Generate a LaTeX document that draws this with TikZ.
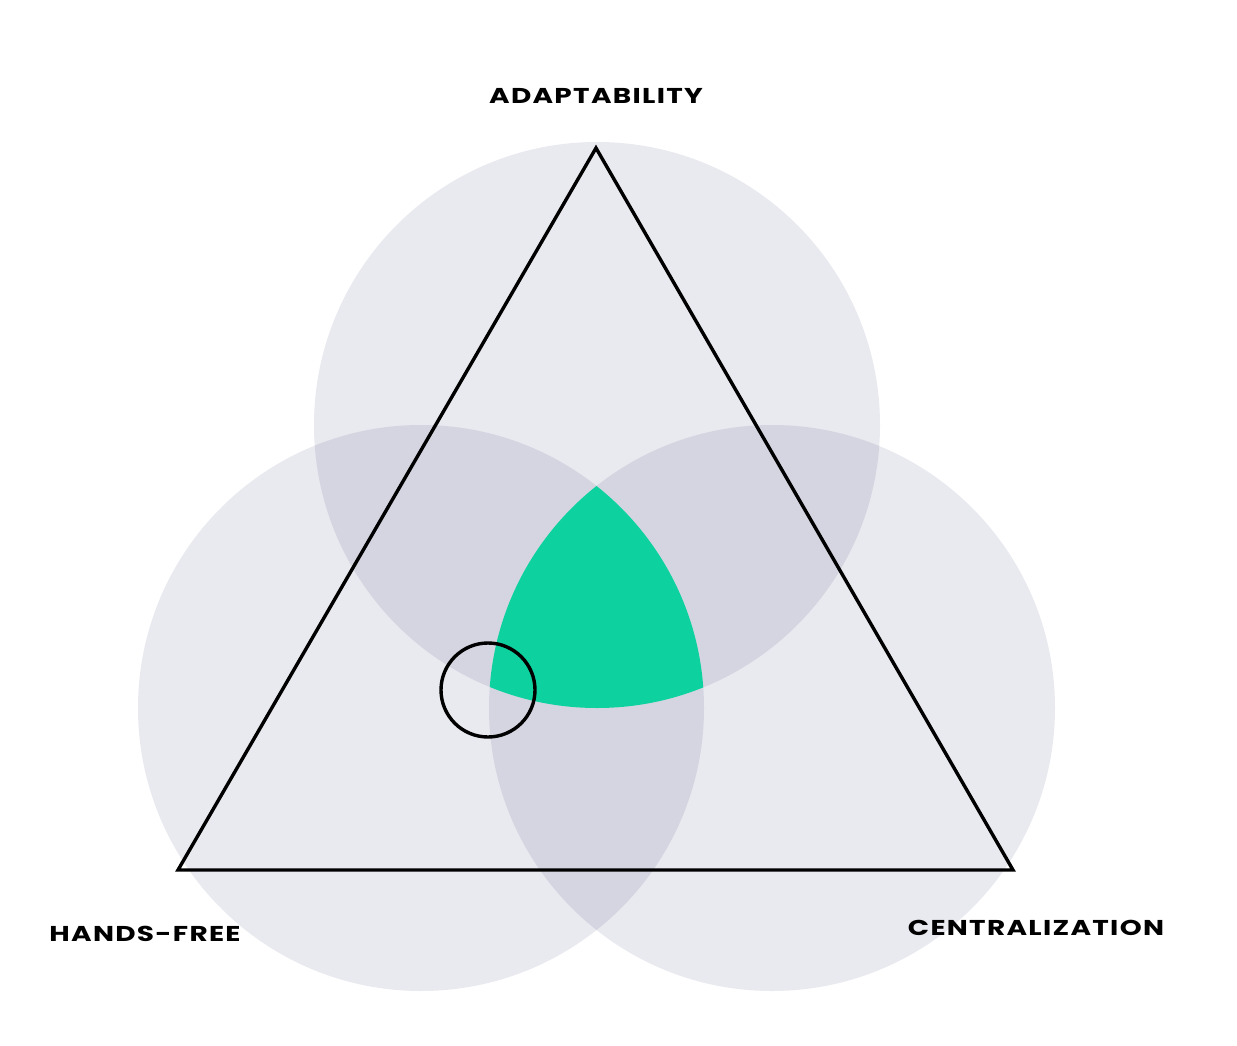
\documentclass[tikz,border=0pt]{standalone}
\usepackage{fontspec}
\setmainfont{Poppins}[FakeStretch=1.3, LetterSpace=6, UprightFont=*-Bold]
\definecolor{lightc}{HTML}{E9EAEF}
\definecolor{midc}{HTML}{D4D5E0}
\definecolor{greenc}{HTML}{0ED1A0}
\tikzset{
  lbl/.style={font=\fontsize{21.5}{24}\selectfont, text=black, inner sep=0pt},
  tri/.style={draw=black, line width=3.4pt, line join=miter},
  ring/.style={draw=black, line width=3.4pt}
}
\begin{document}
\begin{tikzpicture}[x=1pt,y=-1pt]
\useasboundingbox (0,0) rectangle (1237,1046);
\coordinate (A) at (597,425);
\coordinate (B) at (421,708);
\coordinate (C) at (772,708);
\fill[lightc] (A) circle[radius=283pt];
\fill[lightc] (B) circle[radius=283pt];
\fill[lightc] (C) circle[radius=283pt];
\begin{scope}
  \clip (A) circle[radius=283pt];
  \fill[midc] (B) circle[radius=283pt];
  \fill[midc] (C) circle[radius=283pt];
\end{scope}
\begin{scope}
  \clip (B) circle[radius=283pt];
  \fill[midc] (C) circle[radius=283pt];
\end{scope}
\begin{scope}
  \clip (A) circle[radius=283pt];
  \clip (B) circle[radius=283pt];
  \fill[greenc] (C) circle[radius=283pt];
\end{scope}
\coordinate (P) at (596,148);
\coordinate (Q) at (178,870);
\coordinate (S) at (1013,870);
\draw[tri] (P) -- (Q) -- (S) -- cycle;
\node[ring, circle, minimum size=94pt, inner sep=0pt] (ring) at (488,690) {};
\node[lbl] (ad) at (596,96) {ADAPTABILITY};
\node[lbl] (hf) at (145,934) {HANDS-FREE};
\node[lbl] (ce) at (1036,928) {CENTRALIZATION};
\end{tikzpicture}
\end{document}
